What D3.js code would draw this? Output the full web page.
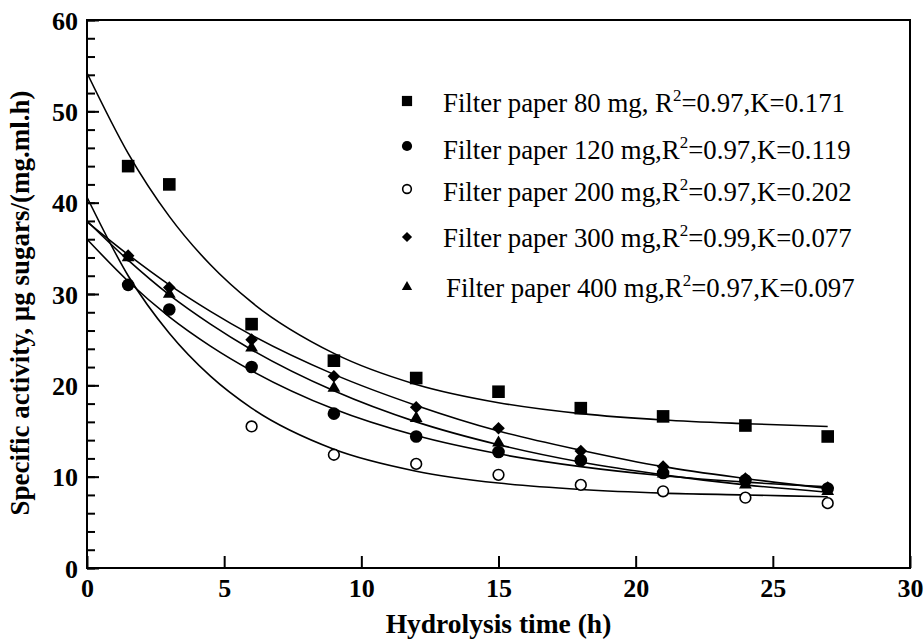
<!DOCTYPE html>
<html>
<head>
<meta charset="utf-8">
<script src="https://cdn.jsdelivr.net/npm/d3@7/dist/d3.min.js"></script>
<style>
  body { margin: 0; background: #fff; }
  svg { display: block; }
  svg text { font-family: "Liberation Serif", "Times New Roman", serif; fill: #000; }
</style>
</head>
<body>
<div id="chart"></div>
<script>
// Data
var hours = [1.5, 3, 6, 9, 12, 15, 18, 21, 24, 27];
var fp80 = [44.0, 42.0, 26.7, 22.7, 20.8, 19.3, 17.5, 16.6, 15.6, 14.4];
var fp120 = [31.0, 28.3, 22.0, 16.9, 14.4, 12.7, 11.8, 10.4, 9.6, 8.7];
var fp200Hours = [6, 9, 12, 15, 18, 21, 24, 27];
var fp200 = [15.5, 12.4, 11.4, 10.2, 9.1, 8.4, 7.7, 7.1];
var fp300 = [34.2, 30.7, 25.0, 21.0, 17.6, 15.3, 12.8, 11.1, 9.8, 8.8];
var fp400 = [34.0, 30.0, 24.1, 19.7, 16.4, 13.7, 12.0, 10.3, 9.1, 8.4];

// Fitted curves, read at these times
var fitHours = [0, 1.5, 3, 4.5, 6, 9, 12, 15, 18, 21, 24, 27];
var fit80 = [54.2, 45.4, 38.5, 33.2, 29.1, 23.5, 20.1, 18.1, 16.9, 16.2, 15.8, 15.5];
var fit120 = [36.0, 31.4, 27.5, 24.3, 21.6, 17.4, 14.5, 12.5, 11.1, 10.1, 9.4, 8.9];
var fit200 = [40.6, 32.0, 25.7, 21.0, 17.5, 13.0, 10.6, 9.3, 8.6, 8.2, 8.0, 7.8];
var fit300 = [37.9, 34.3, 31.0, 28.1, 25.5, 21.2, 17.8, 15.0, 12.9, 11.1, 9.8, 8.7];
var fit400 = [38.0, 33.7, 29.9, 26.7, 23.9, 19.4, 16.0, 13.5, 11.6, 10.2, 9.1, 8.3];

// Legend text
var masses = ["80", "120", "200", "300", "400"];
var r2Values = ["0.97", "0.97", "0.97", "0.99", "0.97"];
var kValues = ["0.171", "0.119", "0.202", "0.077", "0.097"];

var xTicks = [0, 5, 10, 15, 20, 25, 30];
var yTicks = [0, 10, 20, 30, 40, 50, 60];
var yMinorTicks = d3.range(0, 61, 2);

var series = [
  { key: "80", symbol: "square", x: hours, y: fp80, fit: fit80 },
  { key: "120", symbol: "circle", x: hours, y: fp120, fit: fit120 },
  { key: "200", symbol: "open", x: fp200Hours, y: fp200, fit: fit200 },
  { key: "300", symbol: "diamond", x: hours, y: fp300, fit: fit300 },
  { key: "400", symbol: "triangle", x: hours, y: fp400, fit: fit400 }
];

var render = function() {
  var width = 924;
  var height = 641;
  var margins = { top: 20, right: 14, bottom: 73, left: 87 };
  var chartWidth = width - margins.left - margins.right;
  var chartHeight = height - margins.top - margins.bottom;

  var svg = d3.select("#chart")
    .append("svg")
    .attr("width", width)
    .attr("height", height);

  var chartElement = svg.append("g")
    .attr("transform", `translate(${margins.left},${margins.top})`);

  var xScale = d3.scaleLinear().domain([0, 30]).range([0, chartWidth]);
  var yScale = d3.scaleLinear().domain([0, 60]).range([chartHeight, 0]);

  // marker shapes
  var markerPath = function(kind, s) {
    if (kind == "square") return d3.symbol(d3.symbolSquare, 144 * s * s)();
    if (kind == "circle" || kind == "open") return d3.symbol(d3.symbolCircle, 113 * s * s)();
    if (kind == "diamond") return d3.symbol(d3.symbolSquare, 72 * s * s)();
    return d3.symbol(d3.symbolTriangle, 64 * s * s)();
  };
  var drawMarker = function(g, kind, x, y, s) {
    var p = g.append("path")
      .attr("d", markerPath(kind, kind == "open" ? 0.85 * s : s))
      .attr("transform", `translate(${x},${y})` + (kind == "diamond" ? " rotate(45)" : ""));
    if (kind == "open") {
      p.attr("fill", "#fff").attr("stroke", "#000").attr("stroke-width", 1.6);
    } else {
      p.attr("fill", "#000");
    }
  };

  // x axis
  var xAxis = d3.axisBottom(xScale)
    .tickValues(xTicks)
    .tickSize(-12)
    .tickFormat(d3.format("d"));
  var xAxisG = chartElement.append("g")
    .attr("transform", `translate(0,${chartHeight})`)
    .call(xAxis);
  xAxisG.attr("font-family", null).attr("font-size", null);
  xAxisG.select(".domain").remove();
  xAxisG.selectAll("line").attr("stroke-width", 2);
  xAxisG.selectAll("text")
    .attr("y", 29)
    .attr("dy", 0)
    .style("font-size", "26px")
    .style("font-weight", "bold");

  // y axis minor ticks
  var yMinor = d3.axisLeft(yScale)
    .tickValues(yMinorTicks)
    .tickSize(-8)
    .tickFormat("");
  var yMinorG = chartElement.append("g").call(yMinor);
  yMinorG.select(".domain").remove();
  yMinorG.selectAll("line").attr("stroke-width", 2);

  // y axis major ticks
  var yAxis = d3.axisLeft(yScale)
    .tickValues(yTicks)
    .tickSize(-12)
    .tickFormat(d3.format("d"));
  var yAxisG = chartElement.append("g").call(yAxis);
  yAxisG.attr("font-family", null).attr("font-size", null);
  yAxisG.select(".domain").remove();
  yAxisG.selectAll("line").attr("stroke-width", 2);
  yAxisG.selectAll("text")
    .attr("x", -9)
    .attr("dy", "0.35em")
    .style("font-size", "26px")
    .style("font-weight", "bold");

  // frame
  chartElement.append("rect")
    .attr("x", 0)
    .attr("y", 0)
    .attr("width", chartWidth)
    .attr("height", chartHeight)
    .attr("fill", "none")
    .attr("stroke", "#000")
    .attr("stroke-width", 2);

  // fitted curves
  var line = d3.line()
    .x(d => xScale(d[0]))
    .y(d => yScale(d[1]))
    .curve(d3.curveMonotoneX);

  chartElement.append("g")
    .attr("class", "fits")
    .selectAll("path")
    .data(series)
    .enter()
    .append("path")
    .attr("d", s => line(fitHours.map((t, i) => [t, s.fit[i]])))
    .attr("fill", "none")
    .attr("stroke", "#000")
    .attr("stroke-width", 1.6);

  // data points
  var drawOrder = [2, 1, 0, 4, 3];
  var dots = chartElement.append("g").attr("class", "dots");
  drawOrder.forEach(function(si) {
    var s = series[si];
    s.x.forEach(function(t, i) {
      drawMarker(dots, s.symbol, xScale(t), yScale(s.y[i]), 1.05);
    });
  });

  // legend
  var legendMarkerY = [101, 146, 189, 237, 287];
  var legendTextY = [112, 159, 201, 247, 297];
  var legendTextX = [443, 443, 443, 443, 446];
  var legend = svg.append("g").attr("class", "legend");
  series.forEach(function(s, i) {
    drawMarker(legend, s.symbol, 407, legendMarkerY[i], 0.85);
    var txt = legend.append("text")
      .attr("x", legendTextX[i])
      .attr("y", legendTextY[i])
      .style("font-size", "26.8px");
    txt.append("tspan").text(`Filter paper ${masses[i]} mg,${i == 0 ? " " : ""}R`);
    txt.append("tspan")
      .style("font-size", "17px")
      .attr("dy", -11)
      .text("2");
    txt.append("tspan")
      .attr("dy", 11)
      .text(`=${r2Values[i]},K=${kValues[i]}`);
  });

  // axis titles
  svg.append("text")
    .attr("x", margins.left + chartWidth / 2)
    .attr("y", 633)
    .attr("text-anchor", "middle")
    .style("font-size", "27.5px")
    .style("font-weight", "bold")
    .text("Hydrolysis time (h)");

  svg.append("text")
    .attr("transform", "translate(29,303) rotate(-90)")
    .attr("text-anchor", "middle")
    .style("font-size", "27px")
    .style("font-weight", "bold")
    .text("Specific activity, µg sugars/(mg.ml.h)");
};

window.onload = render;
</script>
</body>
</html>
